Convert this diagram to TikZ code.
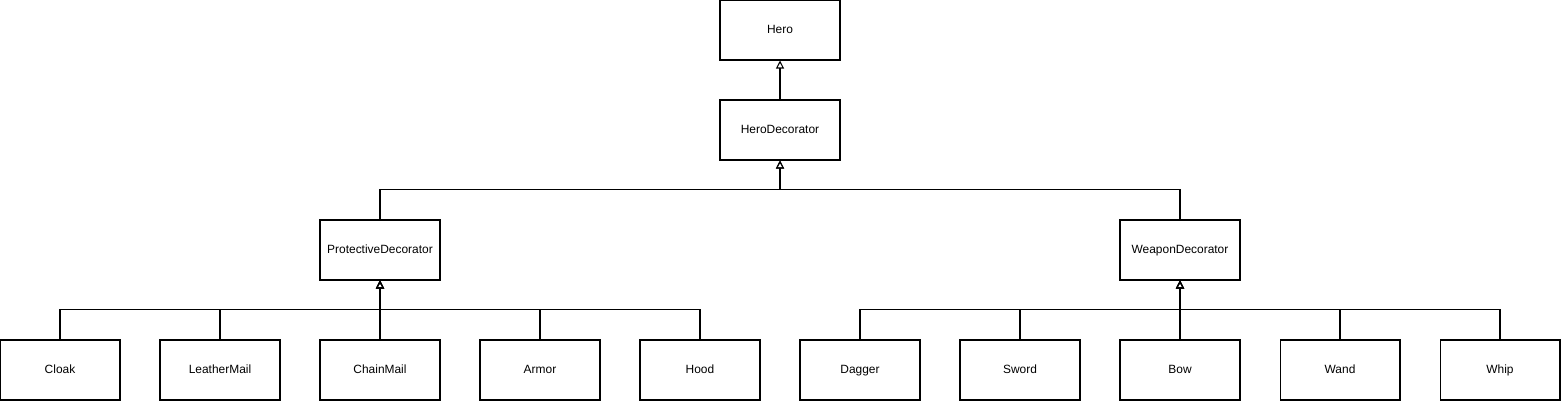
\documentclass[tikz,border=0pt]{standalone}
\usepackage{fontspec}
\setmainfont{Liberation Sans}
\usetikzlibrary{arrows.meta}

\tikzset{
  cls/.style={draw,line width=0.6pt,minimum width=2.4cm,minimum height=1.2cm,
    font=\fontsize{6.8}{8}\selectfont,inner sep=0pt,text height=1.3ex,text depth=0.65ex},
  inh/.style={line width=0.6pt,-{Triangle[open,length=0.16cm,width=0.16cm]}}
}

\begin{document}
\begin{tikzpicture}[x=0.02cm,y=-0.02cm]
  \useasboundingbox (0,0) rectangle (1562,401);
  % top of the hierarchy
  \node[cls] (hero) at (780,30) {Hero};
  \node[cls] (herodec) at (780,130) {HeroDecorator};
  \node[cls] (protdec) at (380,250) {ProtectiveDecorator};
  \node[cls] (weapdec) at (1180,250) {WeaponDecorator};
  \draw[inh] (herodec.north) -- (hero.south);
  \draw[inh] (protdec.north) -- ++(0,-30) -| (herodec.south);
  \draw[inh] (weapdec.north) -- ++(0,-30) -| (herodec.south);
  % protective items
  \foreach \name/\x in {Cloak/60,LeatherMail/220,ChainMail/380,Armor/540,Hood/700}{
    \node[cls] (\name) at (\x,370) {\name};
    \draw[inh] (\name.north) -- ++(0,-30) -| (protdec.south);
  }
  % weapons
  \foreach \name/\x in {Dagger/860,Sword/1020,Bow/1180,Wand/1340,Whip/1500}{
    \node[cls] (\name) at (\x,370) {\name};
    \draw[inh] (\name.north) -- ++(0,-30) -| (weapdec.south);
  }
\end{tikzpicture}
\end{document}
